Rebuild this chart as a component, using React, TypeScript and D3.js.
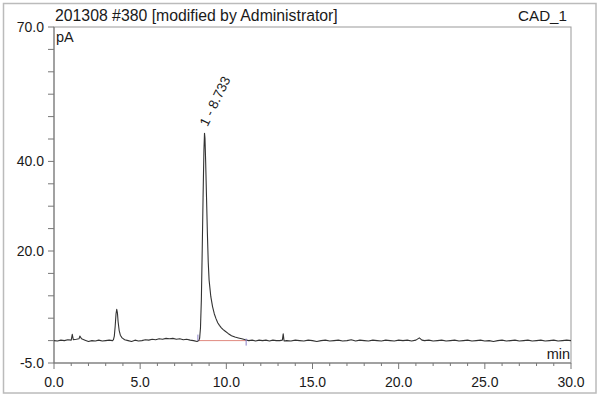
import React from 'react';
import * as d3 from 'd3';

// chromatogram trace, [time (min), signal (pA)]
const trace: [number, number][] = [
  [0.0, 0.0], [0.2, -0.1], [0.4, 0.1], [0.6, 0.0], [0.8, 0.2], [1.0, 0.1], [1.06, 1.4], [1.12, 0.2],
  [1.3, 0.3], [1.45, 0.4], [1.5, 1.0], [1.6, 0.4], [1.8, 0.1], [2.0, -0.2], [2.2, 0.0], [2.4, -0.1],
  [2.6, 0.1], [2.8, -0.1], [3.0, 0.0], [3.2, 0.1], [3.4, 0.0], [3.45, 0.2], [3.5, 1.0], [3.55, 3.2],
  [3.6, 6.0], [3.64, 7.0], [3.68, 6.2], [3.72, 4.2], [3.78, 2.3], [3.85, 1.2], [3.95, 0.6], [4.1, 0.2],
  [4.3, 0.0], [4.5, -0.2], [4.7, 0.1], [4.9, -0.1], [5.1, 0.0], [5.3, 0.2], [5.5, 0.1], [5.7, 0.3],
  [5.9, 0.2], [6.1, 0.4], [6.3, 0.3], [6.5, 0.5], [6.7, 0.4], [6.9, 0.5], [7.1, 0.3], [7.3, 0.4],
  [7.5, 0.2], [7.7, 0.3], [7.9, 0.1], [8.1, 0.0], [8.3, -0.2], [8.4, 0.0], [8.45, 0.5], [8.5, 2.8],
  [8.55, 9.0], [8.6, 20.0], [8.65, 32.0], [8.7, 42.5], [8.733, 46.3], [8.76, 45.2], [8.8, 40.0],
  [8.85, 32.0], [8.9, 24.0], [8.95, 17.5], [9.0, 13.5], [9.1, 9.8], [9.2, 7.6], [9.3, 6.0],
  [9.4, 4.9], [9.5, 4.0], [9.6, 3.4], [9.7, 2.9], [9.8, 2.5], [9.9, 2.2], [10.1, 1.6], [10.3, 1.1],
  [10.5, 0.8], [10.7, 0.6], [10.9, 0.4], [11.1, 0.2], [11.3, 0.0], [11.5, 0.1], [11.7, -0.1],
  [11.9, 0.1], [12.1, 0.0], [12.3, 0.1], [12.5, -0.1], [12.7, 0.1], [12.9, 0.0], [13.1, 0.0],
  [13.25, 0.1], [13.3, 1.5], [13.35, -0.1], [13.5, 0.0], [13.75, -0.1], [14.0, 0.1], [14.25, 0.0],
  [14.5, -0.1], [14.75, 0.1], [15.0, 0.0], [15.25, -0.2], [15.5, 0.0], [15.75, 0.1], [16.0, -0.1],
  [16.25, 0.0], [16.5, 0.1], [16.75, -0.1], [17.0, 0.0], [17.25, 0.2], [17.5, -0.1], [17.75, 0.1],
  [18.0, 0.0], [18.25, -0.1], [18.5, 0.1], [18.75, 0.0], [19.0, -0.1], [19.25, 0.1], [19.5, 0.0],
  [19.75, -0.1], [20.0, 0.1], [20.25, 0.0], [20.5, 0.1], [20.75, -0.1], [21.0, 0.1], [21.2, 0.6],
  [21.35, 0.1], [21.5, 0.0], [21.75, 0.1], [22.0, -0.1], [22.25, 0.0], [22.5, 0.1], [22.75, -0.1],
  [23.0, 0.0], [23.25, 0.1], [23.5, -0.1], [23.75, 0.0], [24.0, 0.1], [24.25, -0.1], [24.5, 0.0],
  [24.75, 0.1], [25.0, -0.1], [25.25, 0.0], [25.5, -0.2], [25.75, 0.0], [26.0, 0.1], [26.25, -0.1],
  [26.5, 0.0], [26.75, 0.1], [27.0, -0.1], [27.25, 0.0], [27.5, 0.1], [27.75, -0.1], [28.0, 0.0],
  [28.25, 0.1], [28.5, -0.1], [28.75, 0.0], [29.0, 0.1], [29.25, -0.1], [29.5, 0.0], [29.75, 0.1],
  [30.0, 0.0],
];

const peakLabel = { time: 8.733, value: 46.3, text: '1 - 8.733' };
const peakBaseline = { start: 8.35, end: 11.15, value: 0.0 };

const xLabels = [0, 5, 10, 15, 20, 25, 30];
const xMinorTicks = d3.range(0, 31, 1);
const yLabels = [70, 40, 20, -5];
const yTicks = d3.range(-5, 71, 5);

const title = '201308 #380 [modified by Administrator]';
const channel = 'CAD_1';

export default function App() {
  const W = 600;
  const H = 398;
  const m = { left: 54, right: 571, top: 27, bottom: 363 };

  const x = d3.scaleLinear().domain([0, 30]).range([m.left, m.right]);
  const y = d3.scaleLinear().domain([-5, 70]).range([m.bottom, m.top]);

  const line = d3
    .line<[number, number]>()
    .x((d) => x(d[0]))
    .y((d) => y(d[1]));

  const font = 'Liberation Sans, Arial, sans-serif';
  const ink = '#1a1a1a';
  const axis = '#777';

  return (
    <svg
      width={W}
      height={H}
      style={{ position: 'absolute', left: 0, top: 0, background: '#fff' }}
      fontFamily={font}
    >
      <rect x={3.5} y={3.5} width={592.5} height={389.5} fill="#fff" stroke="#bbb" strokeWidth={1.5} />

      {/* plot frame */}
      <rect
        x={m.left}
        y={m.top}
        width={m.right - m.left}
        height={m.bottom - m.top}
        fill="none"
        stroke="#999"
        strokeWidth={1}
      />
      <line x1={m.left} x2={m.left} y1={m.top} y2={m.bottom} stroke={axis} />
      <line x1={m.left} x2={m.right} y1={m.bottom} y2={m.bottom} stroke={axis} />

      {/* y ticks */}
      {yTicks.map((v) => (
        <line key={'yt' + v} x1={m.left - 6} x2={m.left} y1={y(v)} y2={y(v)} stroke={axis} />
      ))}
      {yLabels.map((v) => (
        <text
          key={'yl' + v}
          x={m.left - 10}
          y={y(v)}
          dy="0.36em"
          textAnchor="end"
          fontSize={14}
          fill={ink}
        >
          {v.toFixed(1)}
        </text>
      ))}

      {/* x ticks */}
      {xMinorTicks.map((v) => (
        <line
          key={'xt' + v}
          x1={x(v)}
          x2={x(v)}
          y1={m.bottom}
          y2={m.bottom + (v % 5 === 0 ? 6 : 3)}
          stroke={axis}
        />
      ))}
      {xLabels.map((v) => (
        <text key={'xl' + v} x={x(v)} y={387} textAnchor="middle" fontSize={14} fill={ink}>
          {v.toFixed(1)}
        </text>
      ))}

      {/* titles */}
      <text x={m.left + 1} y={21} fontSize={15.8} fill={ink}>
        {title}
      </text>
      <text x={567} y={21} fontSize={15.2} fill={ink} textAnchor="end">
        {channel}
      </text>
      <text x={m.left + 2} y={42} fontSize={14.5} fill={ink}>
        pA
      </text>
      <text x={m.right - 1} y={359} fontSize={14.5} fill={ink} textAnchor="end">
        min
      </text>

      {/* integration baseline */}
      <line
        x1={x(peakBaseline.start)}
        x2={x(peakBaseline.end)}
        y1={y(peakBaseline.value)}
        y2={y(peakBaseline.value)}
        stroke="#e08a80"
        strokeWidth={1}
      />

      {/* trace */}
      <path d={line(trace) ?? ''} fill="none" stroke="#333" strokeWidth={1.1} strokeLinejoin="round" />

      {/* peak delimiters */}
      <line
        x1={x(peakBaseline.start)}
        x2={x(peakBaseline.start)}
        y1={y(peakBaseline.value) - 6}
        y2={y(peakBaseline.value)}
        stroke="#8a7fc8"
      />
      <line
        x1={x(peakBaseline.end)}
        x2={x(peakBaseline.end)}
        y1={y(peakBaseline.value) - 2}
        y2={y(peakBaseline.value) + 5}
        stroke="#8a7fc8"
      />

      {/* peak label */}
      <text
        transform={`translate(${x(peakLabel.time) + 3},${y(peakLabel.value) - 6}) rotate(-64)`}
        fontSize={13.5}
        fill={ink}
      >
        {peakLabel.text}
      </text>
    </svg>
  );
}
